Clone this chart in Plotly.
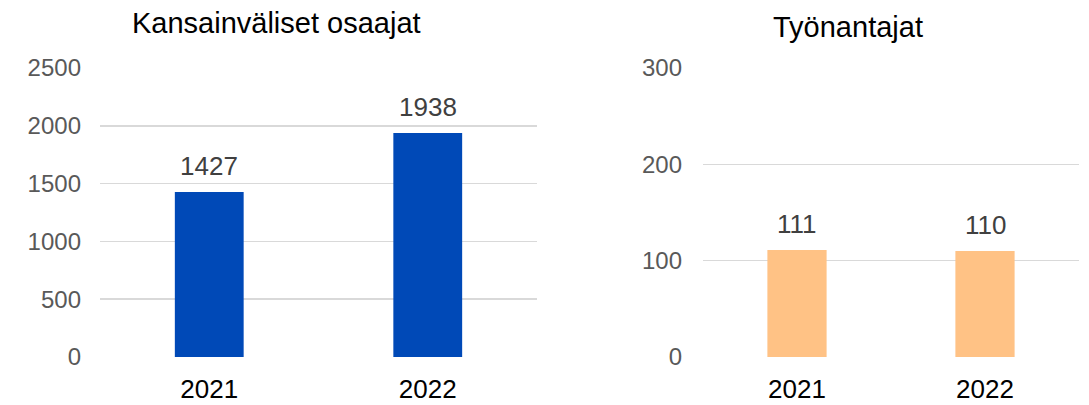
import plotly.graph_objects as go

categories = ["2021", "2022"]
osaajat_values = [1427, 1938]
tyonantajat_values = [111, 110]
left_ticks = [0, 500, 1000, 1500, 2000, 2500]
right_ticks = [0, 100, 200, 300]
left_title = "Kansainväliset osaajat"
right_title = "Työnantajat"

FONT = "Arial, 'Liberation Sans', sans-serif"
W, H = 1089, 405

fig = go.Figure()
fig.add_trace(go.Bar(x=categories, y=osaajat_values, marker_color="#0049B7",
                     marker_line_width=0, width=0.315, xaxis="x", yaxis="y",
                     hoverinfo="skip"))
fig.add_trace(go.Bar(x=categories, y=tyonantajat_values, marker_color="#FFC285",
                     marker_line_width=0, width=0.315, xaxis="x2", yaxis="y2",
                     hoverinfo="skip"))

annotations = []
for i, v in enumerate(osaajat_values):
    annotations.append(dict(x=i, y=v, xref="x", yref="y", text=str(v), showarrow=False,
                            yanchor="bottom", yshift=9,
                            font=dict(family=FONT, size=26, color="#404040")))
for i, v in enumerate(tyonantajat_values):
    annotations.append(dict(x=i, y=v, xref="x2", yref="y2", text=str(v), showarrow=False,
                            yanchor="bottom", yshift=9,
                            font=dict(family=FONT, size=26, color="#404040")))
annotations.append(dict(x=276.5 / W, y=1 - 23 / H, xref="paper", yref="paper", text=left_title,
                        showarrow=False, xanchor="center", yanchor="middle",
                        font=dict(family=FONT, size=29, color="#000000")))
annotations.append(dict(x=848 / W, y=1 - 27.5 / H, xref="paper", yref="paper", text=right_title,
                        showarrow=False, xanchor="center", yanchor="middle",
                        font=dict(family=FONT, size=29, color="#000000")))

ydom = [1 - 357 / H, 1 - 68 / H]
axis_common_y = dict(showgrid=True, gridcolor="#D9D9D9", gridwidth=1.5, zeroline=False,
                     ticks="", showline=False, automargin=False,
                     tickfont=dict(family=FONT, size=24, color="#595959"), domain=ydom)
axis_common_x = dict(showgrid=False, zeroline=False, ticks="", showline=False,
                     automargin=False, range=[-0.5, 1.5],
                     tickfont=dict(family=FONT, size=26, color="#000000"),
                     ticklabelstandoff=14, type="category")

fig.update_layout(
    template="none",
    width=W, height=H,
    margin=dict(l=0, r=0, t=0, b=0),
    paper_bgcolor="white", plot_bgcolor="white",
    showlegend=False,
    hovermode=False,
    xaxis=dict(domain=[100 / W, 537 / W], anchor="y", **axis_common_x),
    yaxis=dict(range=[0, 2500], tickvals=left_ticks, anchor="x",
               ticklabelstandoff=18, **axis_common_y),
    xaxis2=dict(domain=[703 / W, 1079 / W], anchor="y2", **axis_common_x),
    yaxis2=dict(range=[0, 300], tickvals=right_ticks, anchor="x2",
                ticklabelstandoff=20, **axis_common_y),
    annotations=annotations,
)

fig.write_html(
    "out.html",
    config={"displayModeBar": False, "staticPlot": True},
    post_script="document.body.style.margin='0';document.body.style.overflow='hidden';",
)
